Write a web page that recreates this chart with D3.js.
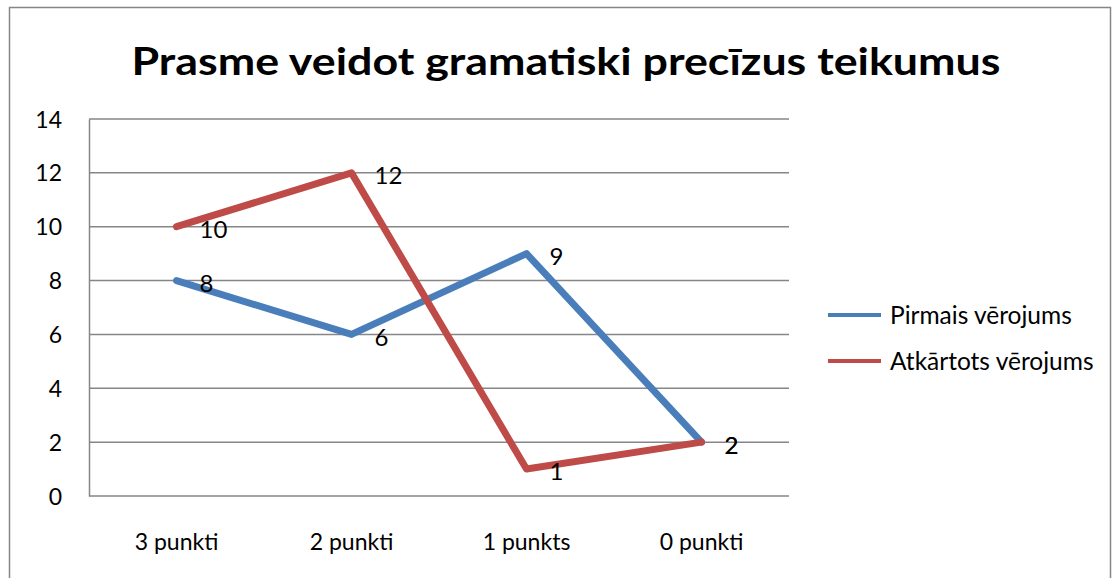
<!DOCTYPE html>
<html>
<head>
<meta charset="utf-8">
<script src="https://cdn.jsdelivr.net/npm/d3@7"></script>
<style>
  body{margin:0;background:#fff;}
  svg text{font-family:Lato,"Open Sans",sans-serif;fill:#000;}
</style>
</head>
<body>
<svg id="chart" width="1113" height="578"></svg>
<script>
// data ----------------------------
var categories=['3 punkti','2 punkti','1 punkts','0 punkti'];
var pirmais=[8,6,9,2];
var atkartots=[10,12,1,2];
var seriesNames=['Pirmais vērojums','Atkārtots vērojums'];
var yTicks=[0,2,4,6,8,10,12,14];
var title='Prasme veidot gramatiski precīzus teikumus';

var colors=['#4a7ebb','#be4b48'];

var svg=d3.select('#chart');

// outer frame
svg.append('rect')
  .attr('x',9.5).attr('y',7.5)
  .attr('width',1101).attr('height',600)
  .attr('fill','#fff').attr('stroke','#868686').attr('stroke-width',1.5);

// title
svg.append('text')
  .attr('x',566).attr('y',75)
  .attr('text-anchor','middle')
  .style('font-size','38px').style('font-weight','bold')
  .attr('textLength',869).attr('lengthAdjust','spacingAndGlyphs')
  .text(title);

// scales
var x=d3.scaleBand().domain(categories).range([89,789]);
var y=d3.scaleLinear().domain([0,14]).range([496,119]);

// gridlines
svg.append('g').selectAll('line')
  .data(yTicks)
  .join('line')
  .attr('x1',89).attr('x2',789)
  .attr('y1',d=>y(d)).attr('y2',d=>y(d))
  .attr('stroke','#868686').attr('stroke-width',1.5);

// y axis
var yAxis=svg.append('g')
  .attr('transform','translate(89,0)')
  .call(d3.axisLeft(y).tickValues(yTicks).tickSize(0).tickPadding(27));
yAxis.select('.domain').attr('stroke','#868686').attr('stroke-width',1.5);
yAxis.selectAll('text').style('font-size','23px').attr('dy','0.35em');

// x axis labels
var xAxis=svg.append('g')
  .attr('transform','translate(0,496)')
  .call(d3.axisBottom(x).tickSize(0).tickPadding(38));
xAxis.select('.domain').remove();
xAxis.selectAll('text').style('font-size','23px');

// lines
var line=d3.line()
  .x((d,i)=>x(categories[i])+x.bandwidth()/2)
  .y(d=>y(d));

[pirmais,atkartots].forEach(function(s,k){
  svg.append('path')
    .datum(s)
    .attr('d',line)
    .attr('fill','none')
    .attr('stroke',colors[k])
    .attr('stroke-width',7)
    .attr('stroke-linecap','round')
    .attr('stroke-linejoin','round');
});

// data labels
[pirmais,atkartots].forEach(function(s){
  svg.append('g').selectAll('text')
    .data(s)
    .join('text')
    .attr('x',(d,i)=>x(categories[i])+x.bandwidth()/2+23)
    .attr('y',(d)=>y(d)+3)
    .attr('dy','0.35em')
    .style('font-size','24px')
    .text(d=>d);
});

// legend
var legend=svg.append('g');
seriesNames.forEach(function(name,k){
  var ly=315+k*46;
  legend.append('line')
    .attr('x1',828).attr('x2',881)
    .attr('y1',ly).attr('y2',ly)
    .attr('stroke',colors[k]).attr('stroke-width',4);
  legend.append('text')
    .attr('x',890).attr('y',ly)
    .attr('dy','0.35em')
    .style('font-size','24.5px')
    .text(name);
});
</script>
</body>
</html>
